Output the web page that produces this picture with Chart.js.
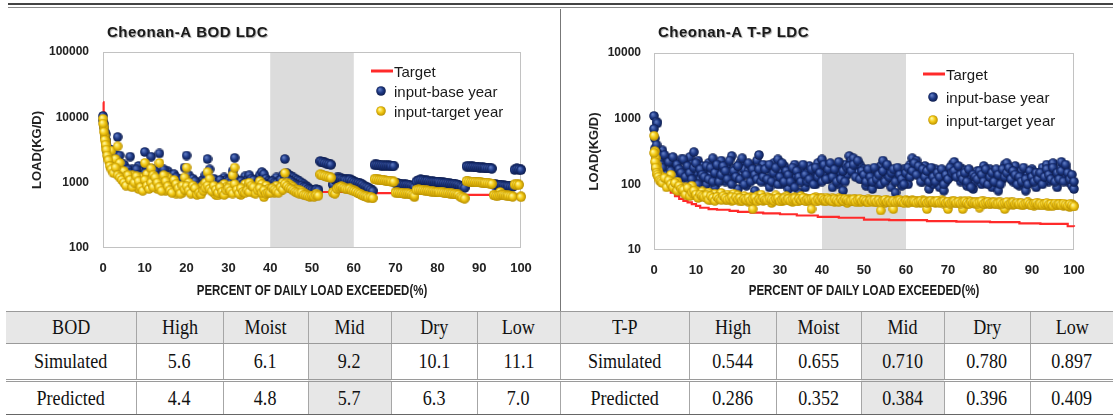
<!DOCTYPE html>
<html>
<head>
<meta charset="utf-8">
<script src="https://cdn.jsdelivr.net/npm/chart.js@4.4.1/dist/chart.umd.min.js"></script>
<style>
    body { margin: 0; width: 1113px; height: 416px; background: #fff; position: relative; overflow: hidden; }
    .rule1 { position: absolute; left: 8px; right: 0; top: 3px; height: 2px; background: #444; }
    .rule2 { position: absolute; left: 8px; right: 0; top: 7px; height: 1px; background: #8a8a8a; }
    .divider { position: absolute; left: 560px; top: 9px; width: 1px; height: 302px; background: #777; }
    #bodWrap { position: absolute; left: 0; top: 0; }
    #tpWrap  { position: absolute; left: 561px; top: 0; }
    #zoneTable { position: absolute; left: 6px; top: 311px; width: 1107px; border-collapse: collapse; table-layout: fixed; }
    #zoneTable td { padding: 0; text-align: center; border-left: 1px solid #a6a6a6; font: 21px "Liberation Serif", "Times New Roman", serif; color: #111; }
    #zoneTable td:first-child { border-left: none; }
    #zoneTable tr.head td { background: #e7e7e7; height: 31px; border-top: 1px solid #9a9a9a; border-bottom: 1px solid #9a9a9a; }
    #zoneTable tr.sim td  { height: 35px; border-bottom: 3px double #9a9a9a; }
    #zoneTable tr.pred td { height: 32px; border-bottom: 1px solid #666; }
    #zoneTable td.mid { background: #e7e7e7; }
    .cx { display: inline-block; transform: scaleX(0.86); }
</style>
</head>
<body>
<div class="rule1"></div>
<div class="rule2"></div>
<div id="bodWrap"><canvas id="bod-chart" width="560" height="300"></canvas></div>
<div id="tpWrap"><canvas id="tp-chart" width="552" height="300"></canvas></div>
<div class="divider"></div>
<table id="zoneTable">
    <colgroup id="zoneCols"></colgroup>
    <tbody id="zone-body"></tbody>
</table>

<script>
// ===== DATOS =====
// eje X compartido: % de días en que se excede la carga
const exceedPct = [
    0, 0.2, 0.4, 0.6, 0.8, 1, 1.3, 1.6, 2, 2.5, 3, 3.5, 4, 4.5,
    5, 5.5, 6, 6.5, 7, 7.5, 8, 8.5, 9, 9.5,
    10, 10.5, 11, 11.5, 12, 12.5, 13, 13.5, 14, 14.5,
    15, 15.5, 16, 16.5, 17, 17.5, 18, 18.5, 19, 19.5,
    20, 20.5, 21, 21.5, 22, 22.5, 23, 23.5, 24, 24.5,
    25, 25.5, 26, 26.5, 27, 27.5, 28, 28.5, 29, 29.5,
    30, 30.5, 31, 31.5, 32, 32.5, 33, 33.5, 34, 34.5,
    35, 35.5, 36, 36.5, 37, 37.5, 38, 38.5, 39, 39.5,
    40, 40.5, 41, 41.5, 42, 42.5, 43, 43.5, 44, 44.5,
    45, 45.5, 46, 46.5, 47, 47.5, 48, 48.5, 49, 49.5,
    50, 50.5, 51, 51.5, 52, 52.5, 53, 53.5, 54, 54.5,
    55, 55.5, 56, 56.5, 57, 57.5, 58, 58.5, 59, 59.5,
    60, 60.5, 61, 61.5, 62, 62.5, 63, 63.5, 64, 64.5,
    65, 65.5, 66, 66.5, 67, 67.5, 68, 68.5, 69, 69.5,
    70, 70.5, 71, 71.5, 72, 72.5, 73, 73.5, 74, 74.5,
    75, 75.5, 76, 76.5, 77, 77.5, 78, 78.5, 79, 79.5,
    80, 80.5, 81, 81.5, 82, 82.5, 83, 83.5, 84, 84.5,
    85, 85.5, 86, 86.5, 87, 87.5, 88, 88.5, 89, 89.5,
    90, 90.5, 91, 91.5, 92, 92.5, 93, 93.5, 94, 94.5,
    95, 95.5, 96, 96.5, 97, 97.5, 98, 98.5, 99, 99.5,
    100
];

// BOD (kg/d) — dos observaciones por percentil
const bodBaseYear = [
    10500, 8000, 6000, 5500, 4200, 3500, 2800, 2500, 3200, 2600, 2700, 5000, 2600, 1900,
    1900, 1500, 1300, 2500, 1600, 1350, 1200, 1800, 1500, 1300,
    2950, 1700, 1400, 2500, 1600, 1300, 1100, 2800, 1400, 1200,
    1000, 1500, 1300, 1100, 950, 900, 1150, 1050, 900, 1700,
    2600, 1300, 1000, 900, 950, 880, 950, 1050, 1100, 1300,
    2300, 1600, 1100, 900, 820, 800, 880, 1000, 1200, 1100,
    900, 1150, 1500, 2400, 1100, 900, 820, 1000, 1250, 1100,
    1300, 1000, 880, 1000, 1150, 1300, 1450, 1350, 1150, 1050,
    1000, 950, 1100, 1200, 1050, 1000, 1300, 2300, 1400, 1300,
    1250, 1200, 1150, 1100, 1050, 1000, 950, 900, 850, 800,
    780, 760, 800, 780, 2150, 2100, 2050, 2000, 1950, 1900,
    950, 1150, 1200, 1200, 1180, 1150, 1150, 1120, 1150, 1100,
    1050, 1020, 1000, 980, 950, 900, 870, 840, 800, 760,
    1900, 1900, 1880, 1870, 1860, 1850, 1850, 1840, 1830, 1830,
    1000, 980, 960, 950, 940, 940, 930, 920, 900, 880,
    1050, 1100, 1120, 1100, 1080, 1080, 1060, 1050, 1050, 1040,
    1040, 1030, 1020, 1010, 1000, 990, 980, 970, 960, 950,
    930, 900, 880, 850, 1800, 1800, 1780, 1770, 1760, 1750,
    1740, 1730, 1720, 1700, 1700, 1680, 1660, 950, 940, 930,
    930, 920, 910, 900, 900, 890, 880, 1600, 1650, 1630,
    1600
];
const bodBaseYearB = [
    9000, 7000, 5000, 4500, 3800, 3000, 2500, 2200, 2000, 1800, 2000, 1700, 1600, 1500,
    1300, 1200, 1600, 1400, 1100, 1300, 1600, 1300, 1100, 1000,
    1400, 1150, 1000, 1300, 1100, 1500, 1250, 1100, 1000, 1600,
    1300, 1100, 1000, 900, 1350, 1200, 1050, 900, 1150, 1000,
    1100, 1000, 880, 1150, 1050, 850, 900, 860, 950, 1050,
    1150, 1000, 950, 1150, 1000, 900, 1100, 950, 850, 1000,
    1050, 980, 880, 1200, 1000, 880, 1050, 950, 920, 1000,
    950, 1150, 1100, 900, 1000, 1050, 920, 1000, 900, 920,
    920, 1050, 1000, 980, 920, 1100, 1000, 1250, 1150, 1100,
    1050, 1000, 950, 920, 900, 900, 860, 840, 800, 780,
    760, 740, 780, 760, 2100, 2050, 2000, 1960, 1920, 1880,
    920, 1100, 1150, 1150, 1130, 1100, 1100, 1080, 1100, 1060,
    1020, 1000, 980, 960, 930, 880, 850, 820, 780, 740,
    1850, 1850, 1840, 1830, 1820, 1810, 1810, 1800, 1790, 1790,
    980, 960, 940, 930, 920, 920, 910, 900, 880, 860,
    1020, 1070, 1090, 1080, 1060, 1060, 1040, 1030, 1030, 1020,
    1020, 1010, 1000, 990, 980, 970, 960, 950, 940, 930,
    910, 880, 860, 830, 1760, 1760, 1740, 1730, 1720, 1710,
    1700, 1690, 1680, 1670, 1660, 1650, 1630, 930, 920, 910,
    910, 900, 890, 880, 880, 870, 860, 1560, 1600, 1590,
    1560
];
const bodTargetYear = [
    9500, 7000, 5200, 4300, 3600, 3000, 2400, 2000, 3100, 1900, 2300, 3600, 2000, 1500,
    1500, 1250, 1050, 900, 1300, 1100, 950, 800, 1200, 1000,
    2000, 1350, 1100, 1650, 1300, 950, 800, 2000, 1150, 900,
    750, 1200, 1000, 850, 720, 680, 900, 800, 700, 1200,
    1700, 1000, 800, 700, 760, 700, 780, 850, 900, 1000,
    1450, 1150, 850, 700, 650, 640, 700, 800, 950, 850,
    700, 900, 1300, 1700, 850, 720, 650, 800, 950, 850,
    1000, 780, 700, 800, 900, 1050, 950, 600, 900, 800,
    760, 720, 700, 900, 800, 760, 1000, 1400, 1000, 950,
    900, 850, 800, 780, 760, 740, 700, 660, 640, 630,
    630, 620, 680, 650, 1350, 1300, 1280, 1250, 1230, 1200,
    720, 700, 820, 860, 880, 850, 830, 800, 820, 780,
    760, 740, 700, 680, 650, 630, 620, 600, 610, 580,
    1150, 1140, 1120, 1100, 1100, 1080, 1070, 1060, 1050, 1050,
    720, 710, 700, 700, 690, 690, 690, 680, 660, 600,
    780, 790, 780, 770, 760, 760, 750, 740, 740, 730,
    730, 720, 720, 710, 700, 700, 690, 690, 680, 670,
    660, 620, 600, 580, 1060, 1050, 1040, 1040, 1030, 1020,
    1020, 1010, 1000, 1000, 990, 980, 970, 650, 640, 640,
    720, 660, 650, 640, 640, 630, 620, 950, 950, 940,
    620
];
const bodTargetYearB = [
    8000, 6000, 4500, 3800, 3200, 2600, 2200, 1800, 1600, 1400, 1700, 1300, 1200, 1100,
    1000, 900, 1300, 1100, 850, 1000, 1250, 1050, 850, 750,
    1100, 900, 800, 1000, 850, 1200, 1000, 850, 750, 1300,
    1050, 880, 760, 700, 1100, 950, 820, 680, 900, 780,
    880, 760, 680, 900, 820, 650, 700, 660, 750, 820,
    900, 800, 740, 900, 780, 700, 850, 720, 650, 760,
    820, 750, 680, 950, 780, 680, 820, 720, 700, 760,
    720, 900, 850, 680, 760, 820, 700, 760, 680, 700,
    700, 820, 780, 740, 700, 850, 780, 950, 880, 820,
    800, 760, 720, 700, 680, 700, 650, 640, 620, 610,
    620, 610, 640, 630, 1320, 1290, 1270, 1240, 1220, 1190,
    700, 680, 800, 840, 860, 830, 810, 790, 800, 760,
    740, 720, 690, 670, 640, 620, 610, 590, 600, 580,
    1120, 1110, 1100, 1090, 1080, 1070, 1060, 1050, 1040, 1030,
    700, 700, 690, 690, 680, 680, 680, 670, 650, 630,
    760, 770, 770, 760, 750, 750, 740, 730, 730, 720,
    720, 710, 710, 700, 690, 690, 680, 680, 670, 660,
    650, 610, 590, 570, 1050, 1040, 1030, 1030, 1020, 1010,
    1010, 1000, 990, 990, 980, 970, 960, 640, 630, 630,
    640, 650, 640, 630, 630, 620, 610, 930, 930, 920,
    600
];
const bodTargetPct = [0, 0.15, 0.3, 0.5, 0.8, 1.2, 2, 3, 5, 8, 14.5, 24, 39.5, 50, 63.5, 85, 100];
const bodTarget    = [17000, 12000, 8000, 5500, 4000, 3000, 2200, 1700, 1300, 1150, 1000, 900, 790, 720, 690, 650, 650];

// T-P (kg/d) — dos observaciones por percentil
const tpBaseYear = [
    1100, 500, 180, 900, 850, 320, 260, 230,
    330, 200, 250, 170, 230, 140, 210, 180, 120, 240,
    160, 220, 110, 260, 200, 310, 150, 230, 120, 190,
    170, 100, 210, 140, 250, 90, 180, 130, 230, 160,
    110, 200, 150, 270, 120, 180, 85, 210, 140, 170,
    95, 160, 190, 120, 80, 230, 280, 150, 200, 110,
    175, 90, 140, 210, 120, 240, 160, 100, 190, 130,
    85, 150, 110, 200, 130, 75, 170, 120, 90, 150,
    190, 130, 160, 100, 210, 180, 240, 140, 200, 120,
    160, 90, 130, 180, 100, 150, 80, 200, 140, 270,
    230, 250, 180, 150, 200, 120, 170, 95, 140, 110,
    85, 130, 160, 100, 190, 230, 150, 120, 170, 90,
    130, 75, 150, 110, 95, 170, 130, 100, 200, 250,
    180, 230, 140, 160, 110, 190, 130, 85, 150, 100,
    170, 120, 90, 140, 80, 110, 160, 130, 200, 220,
    180, 150, 110, 170, 130, 95, 140, 120, 85, 110,
    160, 130, 100, 190, 140, 120, 170, 90, 130, 110,
    80, 140, 120, 200, 210, 170, 150, 110, 190, 130,
    95, 160, 120, 80, 140, 110, 170, 130, 90, 150,
    120, 180, 140, 200, 110, 160, 210, 130, 90, 170,
    220, 140, 180, 110, 130, 95, 85
];
const tpBaseYearB = [
    700, 350, 250, 400, 300, 280, 220, 200,
    180, 280, 140, 220, 160, 260, 130, 200, 170, 150,
    240, 130, 190, 150, 120, 180, 210, 100, 170, 140,
    130, 190, 120, 180, 110, 150, 200, 110, 140, 190,
    160, 120, 230, 100, 160, 130, 190, 120, 250, 100,
    140, 210, 110, 170, 140, 120, 170, 110, 130, 170,
    120, 200, 110, 150, 180, 100, 130, 210, 110, 160,
    140, 110, 180, 90, 160, 130, 110, 200, 140, 110,
    120, 170, 100, 180, 130, 150, 110, 200, 120, 170,
    210, 130, 170, 110, 220, 120, 160, 110, 180, 190,
    160, 200, 130, 230, 120, 160, 140, 110, 170, 130,
    110, 180, 120, 140, 100, 160, 110, 200, 130, 150,
    170, 110, 180, 140, 120, 100, 150, 180, 130, 160,
    210, 140, 190, 110, 170, 130, 160, 110, 180, 130,
    110, 150, 130, 170, 100, 140, 120, 180, 150, 160,
    130, 190, 140, 120, 150, 110, 170, 90, 140, 130,
    120, 160, 140, 110, 170, 100, 130, 150, 110, 170,
    140, 100, 170, 130, 150, 180, 120, 160, 140, 100,
    130, 110, 180, 120, 100, 160, 130, 110, 150, 120,
    150, 100, 130, 170, 140, 120, 180, 110, 150, 120,
    160, 110, 200, 150, 120, 140, 110
];
const tpTargetYear = [
    550, 320, 250, 200, 170, 160, 140, 125,
    130, 110, 120, 95, 140, 100, 85, 110, 90, 80,
    75, 90, 70, 85, 95, 68, 80, 72, 65, 78,
    70, 62, 75, 58, 68, 72, 60, 66, 74, 62,
    58, 70, 64, 56, 72, 60, 68, 55, 62, 66,
    60, 54, 64, 42, 58, 66, 62, 70, 56, 60,
    64, 58, 52, 62, 68, 57, 63, 55, 60, 66,
    58, 62, 54, 64, 60, 56, 66, 58, 62, 55,
    60, 42, 58, 64, 56, 62, 60, 55, 63, 58,
    56, 61, 54, 58, 62, 55, 59, 57, 52, 60,
    58, 55, 60, 56, 53, 58, 57, 54, 59, 55,
    57, 53, 58, 55, 40, 56, 52, 57, 54, 56,
    42, 55, 58, 53, 56, 54, 58, 52, 55, 57,
    53, 56, 55, 52, 57, 54, 42, 55, 53, 56,
    52, 55, 54, 57, 51, 54, 42, 53, 56, 52,
    54, 52, 55, 42, 53, 50, 56, 52, 54, 51,
    53, 44, 52, 55, 50, 53, 51, 54, 50, 52,
    53, 49, 51, 42, 52, 50, 53, 49, 51, 50,
    52, 48, 51, 50, 53, 49, 51, 47, 50, 52,
    49, 51, 48, 50, 46, 51, 49, 50, 48, 51,
    50, 47, 49, 48, 45, 50, 47
];
const tpTargetYearB = [
    300, 220, 180, 150, 140, 130, 115, 110,
    105, 125, 90, 115, 100, 90, 105, 80, 95, 85,
    82, 70, 88, 66, 75, 80, 70, 62, 70, 66,
    64, 68, 58, 66, 62, 56, 64, 60, 58, 66,
    62, 58, 60, 64, 57, 63, 59, 62, 56, 60,
    58, 62, 56, 60, 63, 55, 59, 57, 62, 58,
    57, 61, 59, 56, 60, 62, 55, 58, 61, 57,
    60, 56, 59, 61, 55, 60, 57, 62, 56, 59,
    57, 60, 62, 55, 59, 57, 61, 58, 56, 60,
    58, 55, 60, 57, 54, 59, 56, 60, 58, 55,
    56, 59, 54, 57, 60, 55, 58, 56, 53, 57,
    55, 58, 54, 57, 53, 56, 58, 54, 56, 53,
    56, 53, 55, 57, 54, 52, 56, 55, 53, 55,
    55, 52, 54, 56, 53, 55, 52, 54, 56, 53,
    54, 56, 52, 53, 55, 52, 54, 51, 53, 55,
    52, 54, 51, 53, 55, 52, 50, 54, 52, 53,
    51, 53, 55, 50, 52, 54, 51, 52, 53, 50,
    51, 53, 50, 52, 54, 49, 51, 53, 50, 52,
    50, 52, 49, 51, 53, 50, 48, 51, 52, 49,
    51, 48, 50, 52, 49, 50, 47, 51, 49, 50,
    48, 51, 49, 47, 50, 48, 46
];
const tpTargetPct = [0, 0.2, 0.4, 0.6, 0.8, 1, 1.5, 2, 3, 4, 5, 6, 7, 8, 9, 10, 11, 13, 15, 18, 20, 23, 26, 30, 34, 39, 44, 50, 56, 65, 72, 80, 87, 92, 98.5, 100];
const tpTarget    = [480, 350, 260, 200, 160, 140, 120, 105, 88, 75, 66, 60, 56, 53, 50, 47, 44, 42, 41, 39.5, 38, 37, 36, 35, 33.5, 32, 31, 29, 28.5, 27.5, 27, 26.5, 25.5, 25, 23, 22.5];

// ejes y etiquetas
const xTicks     = [0, 10, 20, 30, 40, 50, 60, 70, 80, 90, 100];
const bodYTicks  = [100, 1000, 10000, 100000];
const tpYTicks   = [10, 100, 1000, 10000];
const midBand    = [40, 60];
const seriesNames = ['Target', 'input-base year', 'input-target year'];

// tabla de reducciones
const zones        = ['High', 'Moist', 'Mid', 'Dry', 'Low'];
const bodSimulated = ['5.6', '6.1', '9.2', '10.1', '11.1'];
const bodPredicted = ['4.4', '4.8', '5.7', '6.3', '7.0'];
const tpSimulated  = ['0.544', '0.655', '0.710', '0.780', '0.897'];
const tpPredicted  = ['0.286', '0.352', '0.384', '0.396', '0.409'];

// ===== ESTILO =====
Chart.defaults.font.family = '"Liberation Sans", Arial, sans-serif';
Chart.defaults.color = '#222';

function makeBall(size, light, mid, dark) {
    const c = document.createElement('canvas');
    c.width = c.height = size;
    const g = c.getContext('2d');
    const r = size / 2;
    const grad = g.createRadialGradient(r * 0.72, r * 0.65, r * 0.1, r, r, r);
    grad.addColorStop(0, light);
    grad.addColorStop(0.5, mid);
    grad.addColorStop(1, dark);
    g.fillStyle = grad;
    g.beginPath();
    g.arc(r, r, r - 0.2, 0, Math.PI * 2);
    g.fill();
    return c;
}

const blueBall   = makeBall(10, '#5f7bc2', '#1f3a86', '#0c1a48');
const yellowBall = makeBall(10, '#fff69a', '#f2c814', '#b58c00');
const targetRed  = '#ff2a2a';

// ===== PLUGIN: banda gris, marco, título y leyenda =====
const ldcDecor = {
    id: 'ldcDecor',
    beforeDatasetsDraw(chart) {
        const { ctx, chartArea: a, scales: { x } } = chart;
        const x0 = x.getPixelForValue(midBand[0]);
        const x1 = x.getPixelForValue(midBand[1]);
        ctx.save();
        ctx.fillStyle = '#dcdcdc';
        ctx.fillRect(x0, a.top, x1 - x0, a.bottom - a.top);
        ctx.strokeStyle = '#c2c2c2';
        ctx.lineWidth = 1;
        ctx.strokeRect(a.left + 0.5, a.top + 0.5, a.right - a.left - 1, a.bottom - a.top - 1);
        ctx.restore();
    },
    afterDraw(chart, args, opts) {
        const { ctx, chartArea: a } = chart;
        ctx.save();

        // título
        ctx.font = 'bold 15px "Liberation Sans", Arial, sans-serif';
        ctx.letterSpacing = '0.5px';
        ctx.fillStyle = '#1a1a1a';
        ctx.textBaseline = 'middle';
        ctx.shadowColor = 'rgba(0,0,0,0.35)';
        ctx.shadowOffsetX = 1;
        ctx.shadowOffsetY = 1;
        ctx.shadowBlur = 1;
        ctx.fillText(opts.title, a.left + 4, 33);
        ctx.shadowColor = 'transparent';
        ctx.letterSpacing = '0px';

        // título del eje X, algo condensado como en el original
        ctx.font = 'bold 14px "Liberation Sans", Arial, sans-serif';
        ctx.textAlign = 'center';
        ctx.translate((a.left + a.right) / 2, 291);
        ctx.scale(0.82, 1);
        ctx.fillText('PERCENT OF DAILY LOAD EXCEEDED(%)', 0, 0);
        ctx.setTransform(1, 0, 0, 1, 0, 0);
        ctx.textAlign = 'left';

        // leyenda
        const lx = opts.legendX, ly = opts.legendY, gap = opts.legendGap;
        ctx.strokeStyle = targetRed;
        ctx.lineWidth = 3;
        ctx.beginPath();
        ctx.moveTo(lx, ly - 2);
        ctx.lineTo(lx + 22, ly - 2);
        ctx.stroke();
        ctx.drawImage(blueBall, lx + 5, ly + gap - 7);
        ctx.drawImage(yellowBall, lx + 5, ly + gap * 2 - 7);

        ctx.font = '15px "Liberation Sans", Arial, sans-serif';
        ctx.fillStyle = '#1a1a1a';
        seriesNames.forEach((name, i) => ctx.fillText(name, lx + 23, ly + gap * i));
        ctx.restore();
    }
};

// ===== GRÁFICAS =====
// cada serie puede traer varias observaciones por percentil
function toPoints(xs, sets) {
    return sets.flatMap(ys => xs.map((x, i) => ({ x, y: ys[i] })));
}

function buildLdc(canvasId, cfg) {
    const ctx = document.getElementById(canvasId).getContext('2d');
    return new Chart(ctx, {
        type: 'scatter',
        data: {
            datasets: [
                {
                    label: seriesNames[2],
                    data: toPoints(exceedPct, cfg.targetYear),
                    pointStyle: yellowBall, pointRadius: 5, clip: false,
                },
                {
                    label: seriesNames[1],
                    data: toPoints(exceedPct, cfg.baseYear),
                    pointStyle: blueBall, pointRadius: 5, clip: false,
                },
                {
                    label: seriesNames[0],
                    data: toPoints(cfg.targetPct, [cfg.target]),
                    showLine: true, stepped: 'before',
                    borderColor: targetRed, borderWidth: 2.2,
                    pointRadius: 0, clip: false,
                }
            ]
        },
        options: {
            responsive: false,
            animation: false,
            events: [],
            layout: { padding: { left: 0, top: cfg.plotTop, right: cfg.padRight, bottom: 0 } },
            plugins: {
                legend: { display: false },
                tooltip: { enabled: false },
                ldcDecor: { title: cfg.title, legendX: cfg.legendX, legendY: cfg.legendY, legendGap: cfg.legendGap }
            },
            scales: {
                x: {
                    type: 'linear', min: 0, max: 100,
                    afterBuildTicks: s => { s.ticks = xTicks.map(v => ({ value: v })); },
                    afterFit: s => { s.height = 300 - cfg.plotBottom; s.paddingLeft = 0; s.paddingRight = 0; },
                    grid: { display: false, drawTicks: false },
                    border: { display: false },
                    ticks: { font: { size: 13, weight: 'bold' }, color: '#222', padding: 13, maxRotation: 0 },
                    title: { display: false }
                },
                y: {
                    type: 'logarithmic', min: cfg.yTicks[0], max: cfg.yTicks[cfg.yTicks.length - 1],
                    afterBuildTicks: s => { s.ticks = cfg.yTicks.map(v => ({ value: v })); },
                    afterFit: s => { s.width = cfg.plotLeft; s.paddingTop = 0; s.paddingBottom = 0; },
                    grid: { display: false, drawTicks: false },
                    border: { display: false },
                    ticks: { callback: v => String(v), font: { size: 12, weight: 'bold' }, color: '#222', padding: cfg.yTickPad },
                    title: {
                        display: true, text: 'LOAD(KG/D)', color: '#222',
                        font: { size: 13, weight: 'bold' },
                        padding: { top: cfg.yTitlePad, bottom: 0 }
                    }
                }
            }
        },
        plugins: [ldcDecor]
    });
}

// ===== TABLA =====
function renderTable() {
    const widths = [130, 87, 85, 83, 86, 83, 129, 87, 85, 83, 86, 83];
    document.getElementById('zoneCols').innerHTML = widths.map(w => `<col style="width:${w}px">`).join('');

    const cell = (txt, mid) => `<td${mid ? ' class="mid"' : ''}><span class="cx">${txt}</span></td>`;
    const half = (label, vals, shadeMid) => cell(label) + vals.map((v, i) => cell(v, shadeMid && zones[i] === 'Mid')).join('');

    document.getElementById('zone-body').innerHTML = `
        <tr class="head">${half('BOD', zones, false)}${half('T-P', zones, false)}</tr>
        <tr class="sim">${half('Simulated', bodSimulated, true)}${half('Simulated', tpSimulated, true)}</tr>
        <tr class="pred">${half('Predicted', bodPredicted, true)}${half('Predicted', tpPredicted, true)}</tr>
    `;
}

// ===== INICIALIZACIÓN =====
renderTable();

buildLdc('bod-chart', {
    title: 'Cheonan-A BOD LDC',
    baseYear: [bodBaseYear, bodBaseYearB], targetYear: [bodTargetYear, bodTargetYearB],
    targetPct: bodTargetPct, target: bodTarget,
    yTicks: bodYTicks,
    plotLeft: 103, plotTop: 52, plotBottom: 248, padRight: 39,
    yTickPad: 14, yTitlePad: 30,
    legendX: 371, legendY: 73, legendGap: 20
});

buildLdc('tp-chart', {
    title: 'Cheonan-A T-P LDC',
    baseYear: [tpBaseYear, tpBaseYearB], targetYear: [tpTargetYear, tpTargetYearB],
    targetPct: tpTargetPct, target: tpTarget,
    yTicks: tpYTicks,
    plotLeft: 93, plotTop: 53, plotBottom: 250, padRight: 39,
    yTickPad: 13, yTitlePad: 26,
    legendX: 362, legendY: 76, legendGap: 23
});
</script>
</body>
</html>
